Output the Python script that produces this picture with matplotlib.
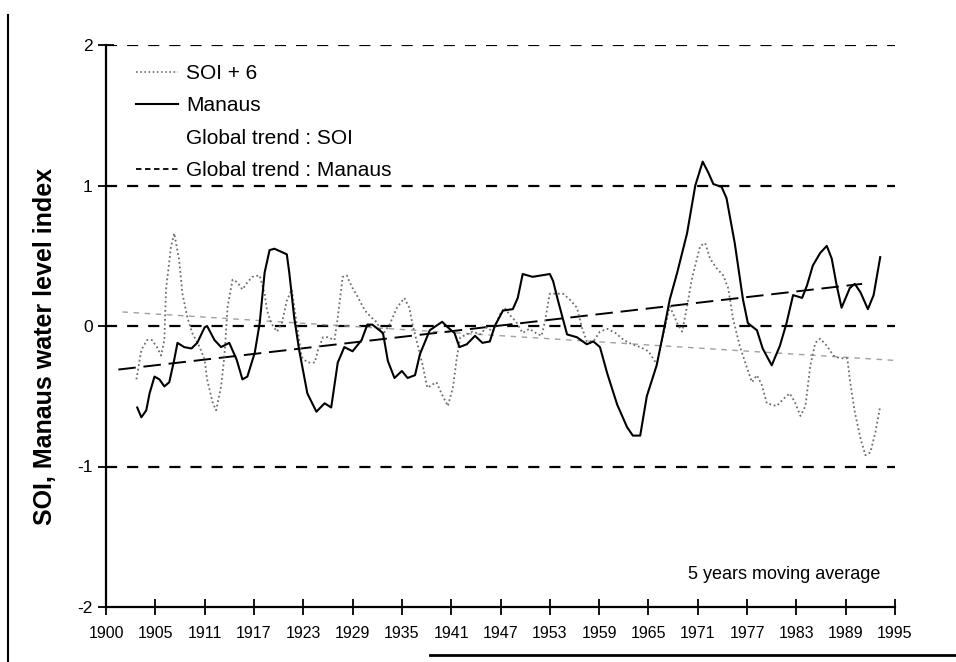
import matplotlib
matplotlib.use("Agg")
import matplotlib.pyplot as plt
from matplotlib.lines import Line2D

plt.rcParams["font.family"] = ["Liberation Sans", "DejaVu Sans"]

# 5 years moving averages
manaus_years = [1902.8, 1903.3, 1903.9, 1904.3, 1904.9, 1905.5, 1906.1, 1906.7, 1907.3, 1907.7,
                1908.5, 1909.4, 1910.1, 1911.0, 1911.3, 1912.2, 1913.0, 1914.0, 1914.9, 1915.6,
                1916.2, 1917.1, 1917.7, 1918.3, 1918.9, 1919.5, 1921.0, 1921.3, 1921.9, 1922.5,
                1923.5, 1924.6, 1925.6, 1926.4, 1927.2, 1928.0, 1929.0, 1930.1, 1930.8, 1931.4,
                1932.7, 1933.3, 1934.1, 1935.0, 1935.7, 1936.6, 1937.2, 1938.4, 1939.9, 1940.6,
                1941.4, 1942.0, 1942.9, 1943.9, 1944.8, 1945.7, 1946.3, 1947.3, 1948.5, 1949.1,
                1949.7, 1950.9, 1953.0, 1953.4, 1954.0, 1955.1, 1956.3, 1957.5, 1958.3, 1959.1,
                1960.0, 1961.2, 1962.4, 1963.1, 1964.0, 1964.8, 1966.0, 1966.8, 1967.6, 1968.5,
                1969.7, 1970.7, 1971.6, 1972.3, 1972.9, 1973.9, 1974.5, 1975.5, 1976.5, 1977.1,
                1978.2, 1978.9, 1980.0, 1981.0, 1981.8, 1982.6, 1983.7, 1984.3, 1985.0, 1985.9,
                1986.7, 1987.3, 1987.9, 1988.5, 1989.5, 1990.1, 1990.8, 1991.7, 1992.4, 1993.2]
manaus_vals = [-0.58, -0.65, -0.60, -0.48, -0.36, -0.38, -0.43, -0.40, -0.24, -0.12,
               -0.15, -0.16, -0.12, -0.01, 0.00, -0.10, -0.15, -0.12, -0.24, -0.38,
               -0.36, -0.19, 0.02, 0.38, 0.54, 0.55, 0.51, 0.38, 0.06, -0.17,
               -0.48, -0.61, -0.55, -0.58, -0.26, -0.15, -0.18, -0.10, 0.01, 0.01,
               -0.05, -0.25, -0.37, -0.32, -0.37, -0.35, -0.20, -0.03, 0.03, -0.01,
               -0.05, -0.15, -0.13, -0.07, -0.12, -0.11, 0.00, 0.11, 0.12, 0.20,
               0.37, 0.35, 0.37, 0.32, 0.18, -0.06, -0.08, -0.13, -0.11, -0.15,
               -0.34, -0.56, -0.72, -0.78, -0.78, -0.50, -0.28, -0.05, 0.19, 0.38,
               0.66, 1.00, 1.17, 1.09, 1.01, 0.99, 0.91, 0.59, 0.19, 0.02,
               -0.03, -0.16, -0.28, -0.14, 0.02, 0.22, 0.20, 0.29, 0.43, 0.52,
               0.57, 0.48, 0.29, 0.13, 0.27, 0.30, 0.24, 0.12, 0.22, 0.49]

soi_years = [1902.7, 1903.3, 1904.0, 1904.6, 1905.2, 1905.7, 1906.1, 1906.3, 1906.9, 1907.3,
             1907.9, 1908.3, 1908.9, 1909.5, 1910.4, 1911.0, 1911.3, 1912.0, 1912.4, 1913.0,
             1913.4, 1913.8, 1914.4, 1915.0, 1915.6, 1916.2, 1916.8, 1917.7, 1918.3, 1918.6,
             1919.1, 1919.8, 1920.4, 1921.0, 1921.6, 1922.2, 1922.8, 1923.5, 1924.4, 1924.8,
             1925.4, 1926.0, 1926.8, 1927.2, 1927.8, 1928.3, 1928.9, 1929.6, 1930.5, 1931.3,
             1931.9, 1932.7, 1933.5, 1934.4, 1935.3, 1935.9, 1936.3, 1936.9, 1937.5, 1938.1,
             1939.2, 1939.9, 1940.6, 1941.2, 1941.7, 1942.1, 1942.9, 1943.6, 1944.5, 1945.3,
             1946.1, 1946.9, 1947.5, 1948.1, 1948.9, 1949.7, 1950.5, 1951.3, 1952.0, 1952.4,
             1953.0, 1953.8, 1954.6, 1955.4, 1956.3, 1956.9, 1957.5, 1958.3, 1959.1, 1960.0,
             1961.0, 1962.0, 1963.0, 1964.0, 1965.0, 1966.0, 1967.6, 1968.5, 1969.1, 1969.7,
             1970.3, 1971.3, 1971.9, 1972.5, 1973.3, 1974.1, 1974.7, 1975.3, 1976.1, 1977.0,
             1977.6, 1978.2, 1978.8, 1979.4, 1980.6, 1981.4, 1982.2, 1982.8, 1983.5, 1984.1,
             1984.7, 1985.3, 1985.9, 1986.7, 1987.5, 1988.3, 1989.2, 1989.5, 1990.1, 1990.8,
             1991.4, 1992.0, 1992.6, 1993.2]
soi_vals = [-0.38, -0.17, -0.10, -0.10, -0.15, -0.21, -0.10, 0.26, 0.56, 0.66,
            0.47, 0.23, 0.06, -0.05, -0.15, -0.24, -0.38, -0.55, -0.60, -0.43,
            -0.22, 0.14, 0.33, 0.31, 0.26, 0.31, 0.35, 0.36, 0.23, 0.11,
            0.02, -0.04, 0.02, 0.18, 0.26, 0.02, -0.22, -0.26, -0.26, -0.17,
            -0.08, -0.08, -0.10, 0.06, 0.35, 0.36, 0.28, 0.21, 0.11, 0.06,
            0.03, -0.06, 0.01, 0.13, 0.20, 0.13, 0.01, -0.13, -0.27, -0.44,
            -0.40, -0.49, -0.57, -0.44, -0.22, -0.08, -0.06, -0.04, -0.06, -0.01,
            -0.04, 0.08, 0.13, 0.08, 0.03, -0.05, -0.02, -0.05, -0.07, 0.03,
            0.23, 0.23, 0.23, 0.19, 0.13, -0.01, -0.11, -0.11, -0.04, -0.02,
            -0.05, -0.10, -0.13, -0.15, -0.18, -0.27, 0.14, 0.02, -0.04, 0.14,
            0.34, 0.57, 0.59, 0.48, 0.41, 0.36, 0.27, 0.05, -0.14, -0.30,
            -0.40, -0.35, -0.42, -0.55, -0.57, -0.52, -0.48, -0.54, -0.64, -0.57,
            -0.28, -0.12, -0.09, -0.14, -0.21, -0.23, -0.23, -0.38, -0.61, -0.80,
            -0.92, -0.90, -0.76, -0.57]

# global (linear) trends, end points
soi_trend_years = [1901.0, 1995.0]
soi_trend_vals = [0.10, -0.245]
manaus_trend_years = [1900.5, 1991.0]
manaus_trend_vals = [-0.31, 0.30]

tick_pos = [1899 + 6 * i for i in range(17)]
tick_labels = ["1900", "1905", "1911", "1917", "1923", "1929", "1935", "1941", "1947",
               "1953", "1959", "1965", "1971", "1977", "1983", "1989", "1995"]

fig = plt.figure(figsize=(9.56, 6.62), dpi=100)
ax = fig.add_axes([106 / 956, 1 - 607 / 662, (895 - 106) / 956, (607 - 45) / 662])

for g in [2, 1, 0, -1]:
    ax.axhline(g, color="black", lw=1.6, linestyle=(0, (5, 4.5)), zorder=1)

ax.plot(soi_trend_years, soi_trend_vals, color="#a0a0a0", lw=1.0,
        linestyle=(0, (4, 4)), zorder=2)
ax.plot(manaus_trend_years, manaus_trend_vals, color="black", lw=1.4,
        linestyle=(0, (9, 4)), zorder=2)
ax.plot(soi_years, soi_vals, color="#6e6e6e", lw=1.3, linestyle=(0, (1, 1.5)), zorder=3)
ax.plot(manaus_years, manaus_vals, color="black", lw=1.5, zorder=4)

ax.set_xlim(1899, 1995)
ax.set_ylim(-2, 2)
ax.set_xticks(tick_pos)
ax.set_xticklabels(tick_labels)
ax.set_yticks([-2, -1, 0, 1, 2])
ax.set_yticklabels(["-2", "-1", "0", "1", "2"])
ax.tick_params(axis="both", direction="inout", length=11, width=1.3, labelsize=11.5)
ax.tick_params(axis="y", pad=4, labelsize=12.5)
ax.tick_params(axis="x", pad=8)

for side in ["top", "right"]:
    ax.spines[side].set_visible(False)
for side in ["left", "bottom"]:
    ax.spines[side].set_linewidth(1.6)

ax.set_ylabel("SOI, Manaus water level index", fontsize=18, fontweight="bold")
ax.yaxis.set_label_coords(-0.062, 0.463)

ax.text(1993.2, -1.77, "5 years moving average", fontsize=13, ha="right", va="center")

handles = [
    Line2D([], [], color="#6e6e6e", lw=1.2, linestyle=(0, (1, 1.5))),
    Line2D([], [], color="black", lw=1.5),
    Line2D([], [], color="white", lw=0),
    Line2D([], [], color="black", lw=1.3, linestyle=(0, (3, 2))),
]
labels = ["SOI + 6", "Manaus", "Global trend : SOI", "Global trend : Manaus"]
fig.legend(handles, labels, loc="upper left", bbox_to_anchor=(136 / 956, 1 - 64 / 662),
           frameon=False, fontsize=15, handlelength=2.0, handletextpad=0.4,
           labelspacing=0.64, borderpad=0, borderaxespad=0)

# border of the scanned page
fig.add_artist(Line2D([8 / 956, 8 / 956], [0, 1 - 15 / 662], color="black", lw=1.5))
fig.add_artist(Line2D([430 / 956, 1], [7 / 662, 7 / 662], color="black", lw=2))

fig.savefig("out.png", dpi=100)
